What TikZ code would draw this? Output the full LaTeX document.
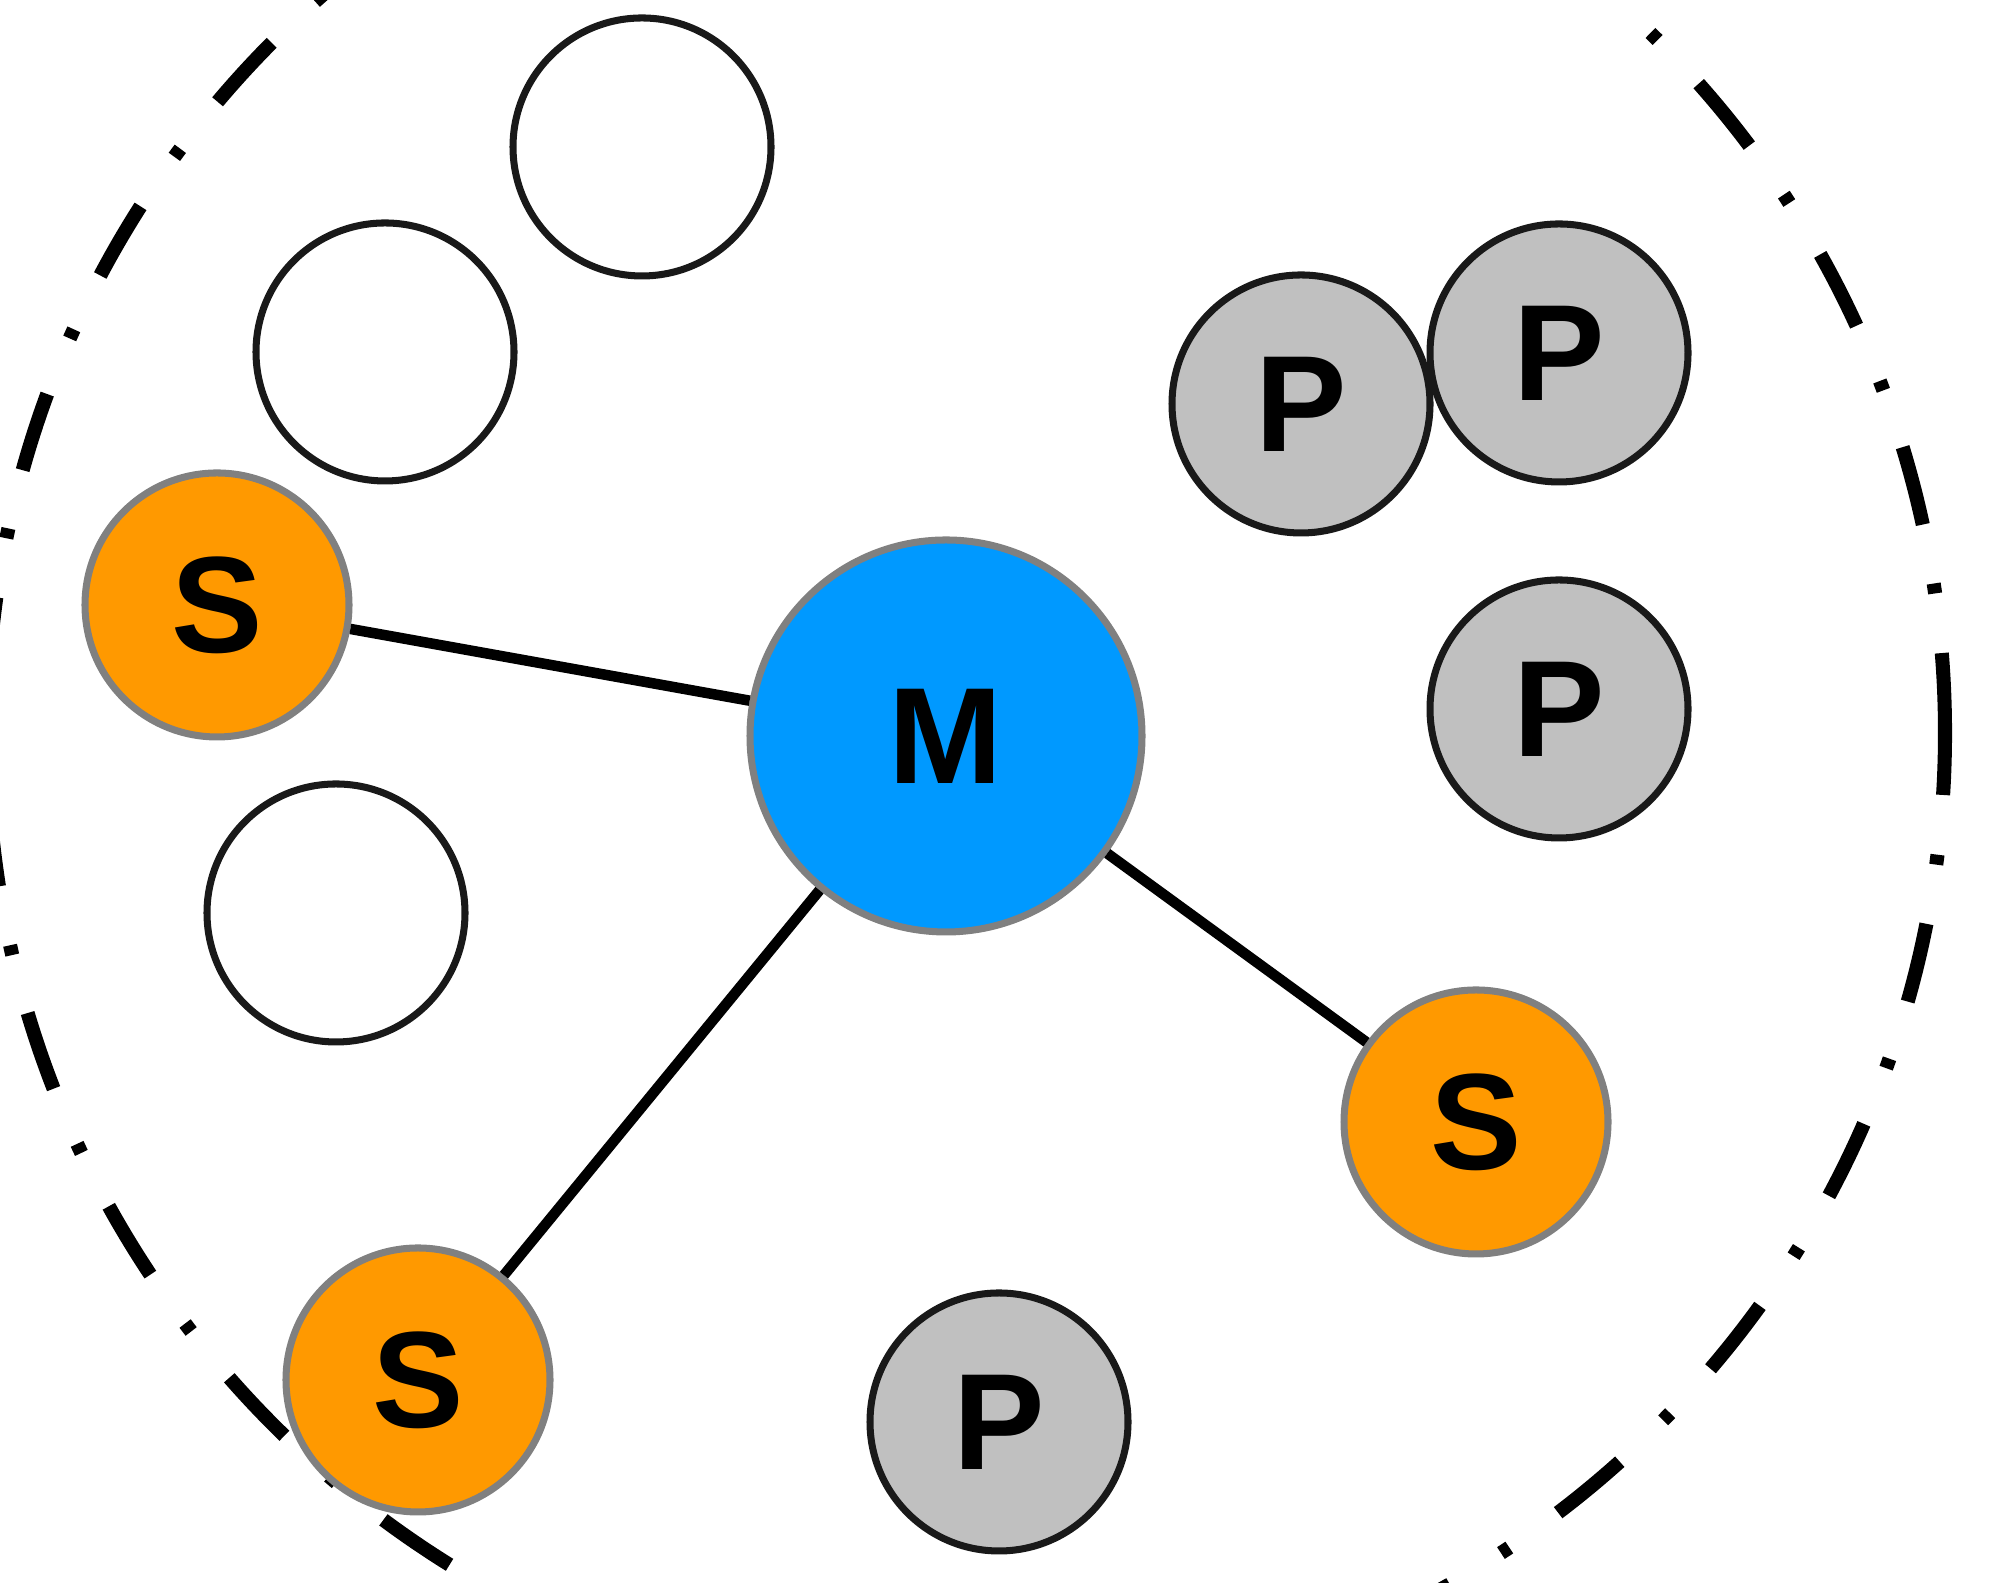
\documentclass[tikz,border=0pt]{standalone}
\usepackage{fontspec}
\setmainfont{Liberation Sans}
\usepackage{xcolor}
\definecolor{mblue}{HTML}{0099FF}
\definecolor{sorange}{HTML}{FF9900}
\definecolor{pgray}{HTML}{C0C0C0}

\begin{document}
\begin{tikzpicture}[
  font=\fontsize{39}{44}\selectfont\bfseries,
  free/.style={circle, draw=black!90, line width=2pt, minimum size=2.58cm, inner sep=0pt},
  peer/.style={free, fill=pgray},
  slave/.style={circle, draw=black!50, line width=2pt, fill=sorange, minimum size=2.64cm, inner sep=0pt},
  master/.style={slave, fill=mblue, minimum size=3.92cm},
  link/.style={line width=3pt, black},
  ring/.style={line width=4pt, dash pattern=on 0.8cm off 0.6cm on 0.1cm off 0.6cm}]
\clip (0,0) rectangle (20,15.83);
% --- zone boundary ---
\draw[ring] (9.66,8.50) circle (9.79);
% --- master and its slaves ---
\node[master] (m) at (9.46,8.47) {M};
\node[slave] (s1) at (2.17,9.78) {S};
\node[slave] (s2) at (14.76,4.61) {S};
\node[slave] (s3) at (4.18,2.03) {S};
\draw[link] (m) -- (s1);
\draw[link] (m) -- (s2);
\draw[link] (m) -- (s3);
% --- peers ---
\node[peer] (p1) at (13.01,11.79) {P};
\node[peer] (p2) at (15.59,12.30) {P};
\node[peer] (p3) at (15.59,8.74) {P};
\node[peer] (p4) at (9.99,1.61) {P};
% --- free devices ---
\node[free] (e1) at (6.42,14.36) {};
\node[free] (e2) at (3.85,12.31) {};
\node[free] (e3) at (3.36,6.70) {};
\end{tikzpicture}
\end{document}
